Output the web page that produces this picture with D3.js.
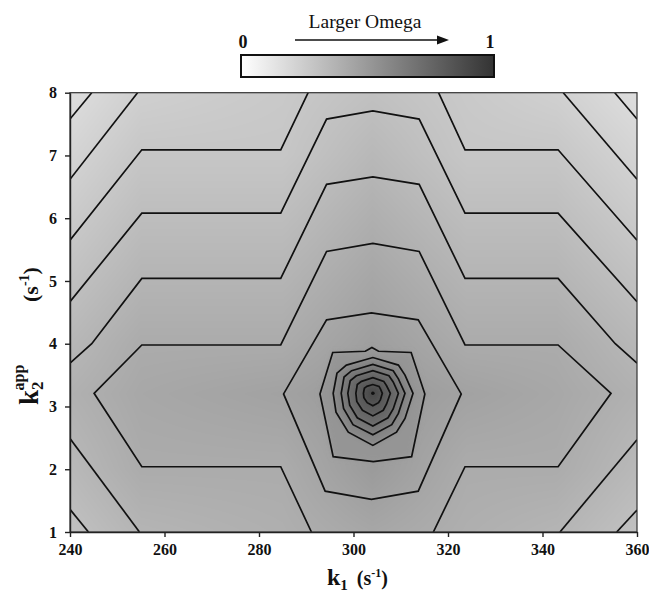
<!DOCTYPE html>
<html>
<head>
<meta charset="utf-8">
<script src="https://cdn.jsdelivr.net/npm/d3@7"></script>
<style>
  html, body { margin: 0; padding: 0; background: #fff; }
  svg text { font-family: "Liberation Serif", "Times New Roman", serif; fill: #111; }
</style>
</head>
<body>
<svg id="chart" width="649" height="594"></svg>
<script>
// 軸の目盛り
const k1Ticks = [240, 260, 280, 300, 320, 340, 360];
const k2Ticks = [1, 2, 3, 4, 5, 6, 7, 8];

// 背景の濃淡 (Omega 0..1) — 不等間隔の格子、行 = k2, 列 = k1
const shadeK1 = [240, 255, 285, 304, 324, 343, 360];
const shadeK2 = [1, 2, 3.2, 4, 5, 6, 7, 8];
const shadeOmega = [
  [0.334, 0.40, 0.43, 0.475, 0.43, 0.40, 0.334],
  [0.378, 0.448, 0.448, 0.54, 0.448, 0.448, 0.378],
  [0.42, 0.47, 0.50, 0.55, 0.50, 0.47, 0.42],
  [0.384, 0.45, 0.45, 0.52, 0.45, 0.45, 0.384],
  [0.333, 0.402, 0.402, 0.478, 0.402, 0.402, 0.333],
  [0.282, 0.354, 0.354, 0.431, 0.354, 0.354, 0.282],
  [0.23, 0.305, 0.305, 0.382, 0.305, 0.305, 0.23],
  [0.178, 0.255, 0.29, 0.335, 0.289, 0.25, 0.178],
];

// 端まで届く等高線 [k1, k2]
const openContours = [
  [[240, 7.58], [244.6, 8]],
  [[355.3, 8], [360, 7.58]],
  [[240, 6.62], [254.3, 8]],
  [[344.4, 8], [360, 6.62]],
  [[240, 5.65], [255.2, 7.09], [284.6, 7.09], [290.4, 8]],
  [[318, 8], [323.6, 7.09], [343.3, 7.09], [360, 5.65]],
  [[240, 4.67], [255.2, 6.08], [284.6, 6.08], [294.3, 7.58], [304.1, 7.71],
   [313.9, 7.58], [323.6, 6.08], [343.3, 6.08], [360, 4.67]],
  [[240, 3.69], [244.6, 4.0], [255.2, 5.04], [284.6, 5.04], [294.3, 6.54], [304.1, 6.66],
   [313.9, 6.54], [323.6, 5.04], [343.3, 5.04], [355.4, 4.0], [360, 3.69]],
  [[291.1, 1.0], [284.6, 2.04], [255.2, 2.04], [245.1, 3.21], [255.2, 3.98], [284.6, 3.98],
   [294.3, 5.47], [304.1, 5.6], [313.9, 5.47], [323.6, 3.98], [343.3, 3.98], [354.5, 3.21],
   [343.3, 2.04], [323.6, 2.04], [316.9, 1.0]],
  [[240, 2.49], [254.7, 1.0]],
  [[343.7, 1.0], [360, 2.47]],
  [[240, 1.36], [243.9, 1.0]],
  [[355.7, 1.0], [360, 1.35]],
];

// ピーク周りの閉じた等高線 (外側から内側へ)
const closedContours = [
  [[294.3, 4.38], [303.8, 4.49], [313.7, 4.38], [322.8, 3.2], [313.7, 1.65], [303.8, 1.52],
   [294.0, 1.65], [285.2, 3.2]],
  [[295.6, 3.86], [302.5, 3.88], [303.9, 3.94], [305.3, 3.88], [312.2, 3.86], [315.1, 3.2],
   [312.3, 2.2], [304.2, 2.12], [295.7, 2.2], [292.9, 3.2]],
  [[298.5, 3.66], [304.1, 3.78], [309.5, 3.66], [310.9, 3.5], [312.6, 3.21], [310.9, 2.81],
   [309.1, 2.59], [304.1, 2.38], [298.9, 2.59], [296.3, 2.91], [295.7, 3.21], [296.5, 3.53]],
  [[299.6, 3.57], [304.1, 3.67], [308.4, 3.57], [309.5, 3.44], [310.9, 3.21], [309.5, 2.89],
   [308.1, 2.71], [304.1, 2.55], [299.9, 2.71], [297.9, 2.97], [297.4, 3.21], [298.0, 3.47]],
  [[300.6, 3.49], [304.1, 3.57], [307.5, 3.49], [308.4, 3.39], [309.5, 3.21], [308.4, 2.96],
   [307.3, 2.82], [304.1, 2.69], [300.8, 2.82], [299.2, 3.02], [298.8, 3.21], [299.3, 3.41]],
  [[301.7, 3.4], [304.1, 3.46], [306.4, 3.4], [307.0, 3.33], [307.8, 3.21], [307.0, 3.04],
   [306.3, 2.94], [304.1, 2.85], [301.9, 2.94], [300.7, 3.08], [300.5, 3.21], [300.8, 3.35]],
  [[302.8, 3.32], [304.1, 3.35], [305.4, 3.32], [305.7, 3.28], [306.1, 3.21], [305.7, 3.11],
   [305.3, 3.06], [304.1, 3.01], [302.9, 3.06], [302.2, 3.14], [302.1, 3.21], [302.3, 3.29]],
];
// 閉じた等高線の内側の濃さ
const closedOmega = [0.5, 0.57, 0.65, 0.73, 0.81, 0.88, 0.94];
const peak = [304.1, 3.21];

const svg = d3.select("#chart");
const x = d3.scaleLinear().domain([240, 360]).range([70, 637]);
const y = d3.scaleLinear().domain([1, 8]).range([532, 92.7]);
const shade = d3.scaleLinear().domain([0, 1]).range(["#ffffff", "#333333"]);
// 図中の濃淡はカラーバーよりやや明るめ
const plotShade = d3.scaleLinear().domain([0, 1]).range(["#ffffff", "#454545"]);

const defs = svg.append("defs");
defs.append("clipPath").attr("id", "plotClip")
  .append("rect")
  .attr("x", x(240)).attr("y", y(8))
  .attr("width", x(360) - x(240)).attr("height", y(1) - y(8));
defs.append("filter").attr("id", "soft")
  .attr("x", "-20%").attr("y", "-20%").attr("width", "140%").attr("height", "140%")
  .append("feGaussianBlur").attr("stdDeviation", 2.5);

/**
 * 不等間隔格子の双線形補間
 */
function omegaAt(a, b) {
  const i = Math.max(0, Math.min(shadeK1.length - 2, d3.bisectRight(shadeK1, a) - 1));
  const j = Math.max(0, Math.min(shadeK2.length - 2, d3.bisectRight(shadeK2, b) - 1));
  const tx = Math.max(0, Math.min(1, (a - shadeK1[i]) / (shadeK1[i + 1] - shadeK1[i])));
  const ty = Math.max(0, Math.min(1, (b - shadeK2[j]) / (shadeK2[j + 1] - shadeK2[j])));
  const lo = shadeOmega[j][i] * (1 - tx) + shadeOmega[j][i + 1] * tx;
  const hi = shadeOmega[j + 1][i] * (1 - tx) + shadeOmega[j + 1][i + 1] * tx;
  return lo * (1 - ty) + hi * ty;
}

/**
 * 背景の濃淡をキャンバスに描いて画像として貼る
 */
function drawBackground() {
  const x0 = x(240), y0 = y(8);
  const w = Math.round(x(360) - x0), h = Math.round(y(1) - y0);
  const canvas = document.createElement("canvas");
  canvas.width = w;
  canvas.height = h;
  const ctx = canvas.getContext("2d");
  const img = ctx.createImageData(w, h);
  for (let py = 0; py < h; py++) {
    const b = y.invert(y0 + py + 0.5);
    for (let px = 0; px < w; px++) {
      const a = x.invert(x0 + px + 0.5);
      const c = d3.rgb(plotShade(omegaAt(a, b)));
      const k = (py * w + px) * 4;
      img.data[k] = c.r;
      img.data[k + 1] = c.g;
      img.data[k + 2] = c.b;
      img.data[k + 3] = 255;
    }
  }
  ctx.putImageData(img, 0, 0);
  svg.append("image")
    .attr("x", x0).attr("y", y0)
    .attr("width", w).attr("height", h)
    .attr("preserveAspectRatio", "none")
    .attr("href", canvas.toDataURL());
}

drawBackground();

const line = d3.line().x((d) => x(d[0])).y((d) => y(d[1]));
const closedLine = d3.line().x((d) => x(d[0])).y((d) => y(d[1])).curve(d3.curveLinearClosed);

// ピーク周りの濃い塗り (ぼかして滑らかに)
const gFill = svg.append("g").attr("clip-path", "url(#plotClip)").attr("filter", "url(#soft)");
gFill.selectAll("path")
  .data(closedContours.slice(1))
  .join("path")
  .attr("d", closedLine)
  .attr("fill", (d, i) => plotShade(closedOmega[i + 1]));
gFill.append("circle")
  .attr("cx", x(peak[0])).attr("cy", y(peak[1])).attr("r", 4)
  .attr("fill", plotShade(0.99));

// 等高線
const gLines = svg.append("g").attr("clip-path", "url(#plotClip)")
  .attr("fill", "none").attr("stroke", "#111").attr("stroke-width", 1.7)
  .attr("stroke-linejoin", "miter");
gLines.selectAll("path.open")
  .data(openContours)
  .join("path")
  .attr("class", "open")
  .attr("d", line);
gLines.selectAll("path.closed")
  .data(closedContours)
  .join("path")
  .attr("class", "closed")
  .attr("d", closedLine);
svg.append("circle")
  .attr("cx", x(peak[0])).attr("cy", y(peak[1])).attr("r", 1.8)
  .attr("fill", "#111");

// 枠
svg.append("rect")
  .attr("x", x(240)).attr("y", y(8))
  .attr("width", x(360) - x(240)).attr("height", y(1) - y(8))
  .attr("fill", "none").attr("stroke", "#333").attr("stroke-width", 1.2);

// 軸
const xAxis = svg.append("g")
  .attr("transform", `translate(0,${y(1)})`)
  .call(d3.axisBottom(x).tickValues(k1Ticks).tickFormat(d3.format("d"))
    .tickSize(5).tickSizeOuter(0).tickPadding(7));
const yAxis = svg.append("g")
  .attr("transform", `translate(${x(240)},0)`)
  .call(d3.axisLeft(y).tickValues(k2Ticks).tickFormat(d3.format("d"))
    .tickSize(5).tickSizeOuter(0).tickPadding(8));
[xAxis, yAxis].forEach((g) => {
  g.select(".domain").attr("stroke", "#222").attr("stroke-width", 1.4);
  g.selectAll(".tick line").attr("stroke", "#222").attr("stroke-width", 1.4);
  g.selectAll(".tick text")
    .attr("font-family", "Liberation Serif, serif")
    .attr("font-size", 16).attr("font-weight", "bold").attr("fill", "#111");
});

// 軸タイトル
const xTitle = svg.append("text").attr("x", 327).attr("y", 585)
  .attr("font-weight", "bold");
xTitle.append("tspan").attr("font-size", 24).text("k");
xTitle.append("tspan").attr("font-size", 15).attr("dy", 5).text("1");
xTitle.append("tspan").attr("font-size", 20).attr("dy", -5).attr("dx", 9).text("(s");
xTitle.append("tspan").attr("font-size", 12).attr("dy", -8).text("-1");
xTitle.append("tspan").attr("font-size", 20).attr("dy", 8).text(")");

// 縦軸タイトル: 「k2app」と単位は離して置かれている
const yTitle = svg.append("text")
  .attr("transform", "translate(38,405) rotate(-90)")
  .attr("font-weight", "bold");
yTitle.append("tspan").attr("font-size", 27).text("k");
yTitle.append("tspan").attr("font-size", 17).attr("dy", 5).text("2");
yTitle.append("tspan").attr("font-size", 16).attr("dy", -19).attr("dx", -9).text("app");
const yUnit = svg.append("text")
  .attr("transform", "translate(38,302) rotate(-90)")
  .attr("font-weight", "bold");
yUnit.append("tspan").attr("font-size", 22).text("(s");
yUnit.append("tspan").attr("font-size", 14).attr("dy", -9).text("-1");
yUnit.append("tspan").attr("font-size", 22).attr("dy", 9).text(")");

// カラーバー
const grad = defs.append("linearGradient").attr("id", "omegaGrad");
grad.selectAll("stop")
  .data([0, 0.25, 0.5, 0.75, 1])
  .join("stop")
  .attr("offset", (d) => d)
  .attr("stop-color", (d) => shade(d));
svg.append("rect")
  .attr("x", 241).attr("y", 55).attr("width", 253).attr("height", 22)
  .attr("fill", "url(#omegaGrad)").attr("stroke", "#111").attr("stroke-width", 2);
svg.append("text").attr("x", 243).attr("y", 48).attr("text-anchor", "middle")
  .attr("font-size", 18).attr("font-weight", "bold").text("0");
svg.append("text").attr("x", 490).attr("y", 48).attr("text-anchor", "middle")
  .attr("font-size", 18).attr("font-weight", "bold").text("1");
svg.append("text").attr("x", 365).attr("y", 28).attr("text-anchor", "middle")
  .attr("font-size", 19.5).text("Larger Omega");
svg.append("line")
  .attr("x1", 295).attr("x2", 440).attr("y1", 40).attr("y2", 40)
  .attr("stroke", "#111").attr("stroke-width", 1.5);
svg.append("path")
  .attr("d", "M437,35.5 L449,40 L437,44.5 Z")
  .attr("fill", "#111");
</script>
</body>
</html>
